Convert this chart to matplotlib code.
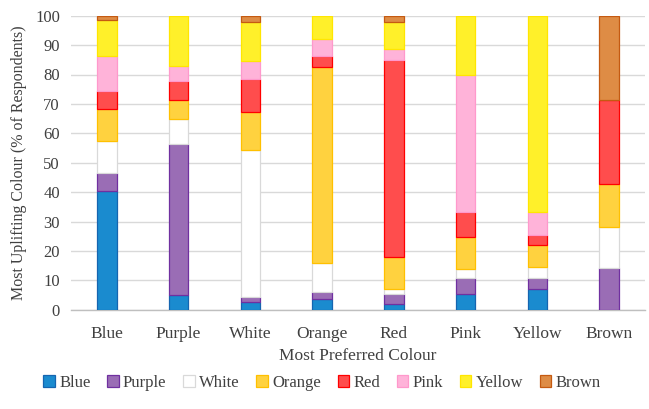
import matplotlib
matplotlib.use('Agg')
import numpy as np
import matplotlib.pyplot as plt
from matplotlib.patches import Patch

plt.rcParams['font.family'] = ['Liberation Serif', 'DejaVu Serif']

# x categories: most preferred colour
preferred = ['Blue', 'Purple', 'White', 'Orange', 'Red', 'Pink', 'Yellow', 'Brown']

# % of respondents choosing each colour as most uplifting, per preferred colour
uplift_blue   = [40.5,  4.9,  2.6,  3.6,  1.8,  5.4,  7.1,  0.0]
uplift_purple = [ 6.1, 51.4,  1.7,  2.3,  3.5,  5.4,  3.7, 14.1]
uplift_white  = [10.9,  8.4, 50.0,  9.9,  1.8,  2.9,  3.8, 14.1]
uplift_orange = [10.8,  6.6, 13.0, 66.7, 10.9, 11.0,  7.4, 14.4]
uplift_red    = [ 6.0,  6.6, 11.0,  3.7, 67.0,  8.4,  3.5, 28.6]
uplift_pink   = [12.1,  5.0,  6.4,  6.0,  3.7, 46.9,  7.6,  0.0]
uplift_yellow = [12.0, 17.1, 13.1,  7.8,  9.1, 20.0, 66.9,  0.0]
uplift_brown  = [ 1.6,  0.0,  2.2,  0.0,  2.2,  0.0,  0.0, 28.8]

series = [
    ('Blue',   uplift_blue,   '#1a8bcf', '#1565b0'),
    ('Purple', uplift_purple, '#9a6db5', '#7030a0'),
    ('White',  uplift_white,  '#ffffff', '#d9d9d9'),
    ('Orange', uplift_orange, '#ffd23f', '#ffc000'),
    ('Red',    uplift_red,    '#ff4d4d', '#ff0000'),
    ('Pink',   uplift_pink,   '#ffb3d9', '#ff99cc'),
    ('Yellow', uplift_yellow, '#fff02a', '#ffe600'),
    ('Brown',  uplift_brown,  '#de8c45', '#c55a11'),
]

fig = plt.figure(figsize=(6.49, 4.09), dpi=100)
ax = fig.add_axes([71 / 649, 1 - 309.7 / 409, 574 / 649, 294 / 409])

x = np.arange(len(preferred))
bottom = np.zeros(len(preferred))
handles = []
for name, vals, face, edge in series:
    vals = np.asarray(vals)
    keep = vals > 0  # skip empty segments so their outlines don't show
    ax.bar(x[keep], vals[keep], width=0.27, bottom=bottom[keep], color=face,
           edgecolor=edge, linewidth=0.9, zorder=3)
    bottom += vals
    handles.append(Patch(facecolor=face, edgecolor=edge, linewidth=0.9, label=name))

ax.set_xlim(-0.5, len(preferred) - 0.5)
ax.set_ylim(0, 100)
ax.set_yticks(np.arange(0, 101, 10))
ax.set_xticks(x)
ax.set_xticklabels(preferred)
ax.yaxis.grid(True, color='#d9d9d9', linewidth=1.0, zorder=0)
ax.set_axisbelow(True)
for side in ('left', 'right', 'top'):
    ax.spines[side].set_visible(False)
ax.spines['bottom'].set_color('#bfbfbf')
ax.spines['bottom'].set_linewidth(1.0)
ax.tick_params(axis='both', length=0, colors='#404040')
ax.tick_params(axis='x', pad=12, labelsize=12.5)
ax.tick_params(axis='y', pad=8, labelsize=12)

ax.set_xlabel('Most Preferred Colour', fontsize=12.5, color='#404040', labelpad=4)
ax.set_ylabel('Most Uplifting Colour (% of Respondents)', fontsize=11.5,
              color='#404040', labelpad=6)

fig.legend(handles=handles, loc='center', bbox_to_anchor=(322 / 649, 1 - 383 / 409),
           ncol=8, frameon=False, fontsize=12, handlelength=0.7, handleheight=0.7,
           handletextpad=0.25, columnspacing=1.0, labelcolor='#404040')

fig.savefig('out.png', dpi=100)
